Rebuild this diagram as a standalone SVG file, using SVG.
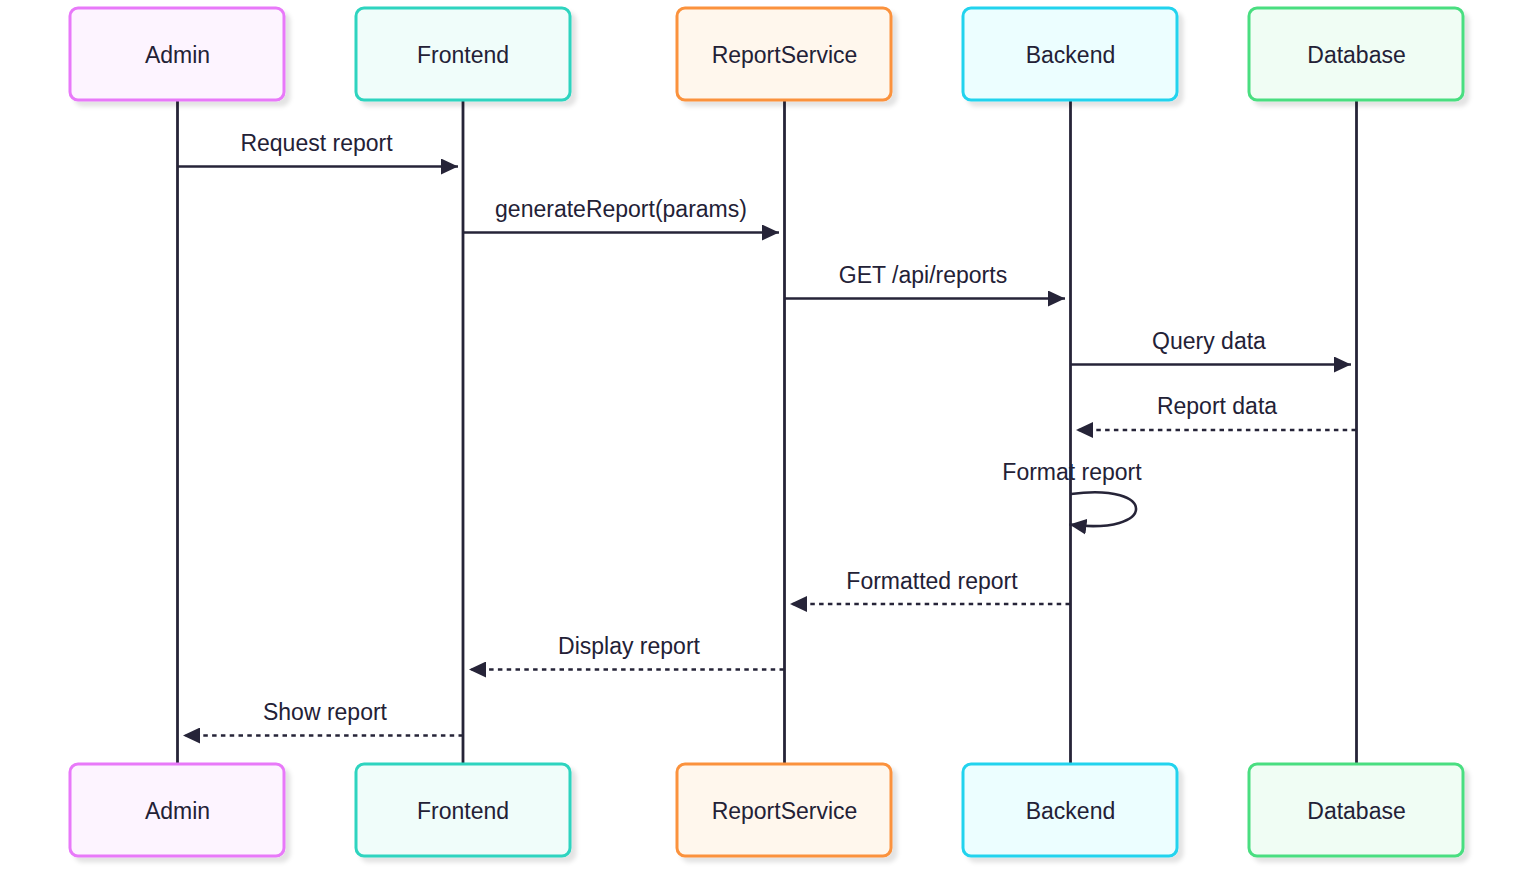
<svg xmlns="http://www.w3.org/2000/svg" width="1532" height="883" viewBox="0 0 1532 883">
<style>
.box{stroke-width:3}
.lbl{font-family:"Liberation Sans",Arial,sans-serif;font-size:23px;fill:#232136;text-anchor:middle}
.msg{font-family:"Liberation Sans",Arial,sans-serif;font-size:23px;fill:#232136;text-anchor:middle}
.life{stroke:#262438;stroke-width:2.8}
.m{stroke:#262438;stroke-width:2.6;fill:none}
.d{stroke-dasharray:4.5,4.3}
</style>
<defs>
<filter id="sh" x="-10%" y="-10%" width="130%" height="140%">
<feDropShadow dx="5" dy="5" stdDeviation="2" flood-color="#000" flood-opacity="0.11"/>
</filter>
<marker id="ah" viewBox="0 0 17 16" refX="17" refY="8" markerWidth="17" markerHeight="16" markerUnits="userSpaceOnUse" orient="auto">
<path d="M0,0 L17,8 L0,16 z" fill="#262438"/>
</marker>
</defs>
<g id="lifelines">
<line class="life" x1="177.5" y1="100" x2="177.5" y2="764"/>
<line class="life" x1="463" y1="100" x2="463" y2="764"/>
<line class="life" x1="784.5" y1="100" x2="784.5" y2="764"/>
<line class="life" x1="1070.5" y1="100" x2="1070.5" y2="764"/>
<line class="life" x1="1356.5" y1="100" x2="1356.5" y2="764"/>
</g>
<g id="node-admin">
<rect class="box" x="70" y="8" width="214" height="92" rx="8" fill="#fdf4ff" stroke="#e879f9" filter="url(#sh)"/>
<text class="lbl" x="177.5" y="62.5">Admin</text>
<rect class="box" x="70" y="764" width="214" height="92" rx="8" fill="#fdf4ff" stroke="#e879f9" filter="url(#sh)"/>
<text class="lbl" x="177.5" y="818.5">Admin</text>
</g>
<g id="node-frontend">
<rect class="box" x="356" y="8" width="214" height="92" rx="8" fill="#f0fdfa" stroke="#2dd4bf" filter="url(#sh)"/>
<text class="lbl" x="463" y="62.5">Frontend</text>
<rect class="box" x="356" y="764" width="214" height="92" rx="8" fill="#f0fdfa" stroke="#2dd4bf" filter="url(#sh)"/>
<text class="lbl" x="463" y="818.5">Frontend</text>
</g>
<g id="node-reportservice">
<rect class="box" x="677" y="8" width="214" height="92" rx="8" fill="#fff7ed" stroke="#fb923c" filter="url(#sh)"/>
<text class="lbl" x="784.5" y="62.5">ReportService</text>
<rect class="box" x="677" y="764" width="214" height="92" rx="8" fill="#fff7ed" stroke="#fb923c" filter="url(#sh)"/>
<text class="lbl" x="784.5" y="818.5">ReportService</text>
</g>
<g id="node-backend">
<rect class="box" x="963" y="8" width="214" height="92" rx="8" fill="#ecfeff" stroke="#22d3ee" filter="url(#sh)"/>
<text class="lbl" x="1070.5" y="62.5">Backend</text>
<rect class="box" x="963" y="764" width="214" height="92" rx="8" fill="#ecfeff" stroke="#22d3ee" filter="url(#sh)"/>
<text class="lbl" x="1070.5" y="818.5">Backend</text>
</g>
<g id="node-database">
<rect class="box" x="1249" y="8" width="214" height="92" rx="8" fill="#f0fdf4" stroke="#4ade80" filter="url(#sh)"/>
<text class="lbl" x="1356.5" y="62.5">Database</text>
<rect class="box" x="1249" y="764" width="214" height="92" rx="8" fill="#f0fdf4" stroke="#4ade80" filter="url(#sh)"/>
<text class="lbl" x="1356.5" y="818.5">Database</text>
</g>
<g id="connectors">
<line class="m" x1="178" y1="166.5" x2="458" y2="166.5" marker-end="url(#ah)"/>
<text class="msg" x="316.5" y="151">Request report</text>
<line class="m" x1="463" y1="232.5" x2="779" y2="232.5" marker-end="url(#ah)"/>
<text class="msg" x="621" y="217">generateReport(params)</text>
<line class="m" x1="784.5" y1="298.5" x2="1065" y2="298.5" marker-end="url(#ah)"/>
<text class="msg" x="923" y="283">GET /api/reports</text>
<line class="m" x1="1070.5" y1="364.5" x2="1351" y2="364.5" marker-end="url(#ah)"/>
<text class="msg" x="1209" y="349">Query data</text>
<line class="m d" x1="1356" y1="430" x2="1076" y2="430" marker-end="url(#ah)"/>
<text class="msg" x="1217" y="414">Report data</text>
<path class="m" d="M1071,494 C1158,482 1158,536 1069.5,524.5" marker-end="url(#ah)"/>
<text class="msg" x="1072" y="480">Format report</text>
<line class="m d" x1="1070" y1="604" x2="790" y2="604" marker-end="url(#ah)"/>
<text class="msg" x="932" y="589">Formatted report</text>
<line class="m d" x1="784" y1="669.5" x2="469" y2="669.5" marker-end="url(#ah)"/>
<text class="msg" x="629" y="654">Display report</text>
<line class="m d" x1="463" y1="735.5" x2="183" y2="735.5" marker-end="url(#ah)"/>
<text class="msg" x="325" y="720">Show report</text>
</g>
</svg>
